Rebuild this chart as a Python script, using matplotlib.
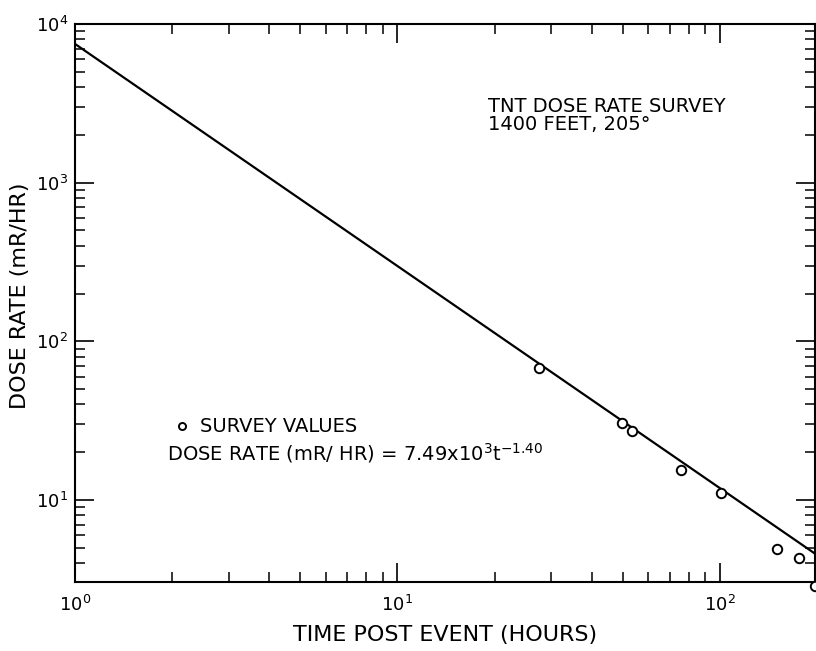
"""
TNT dose rate survey at 1400 ft, 205 deg: survey values and the fitted
power law on log-log axes.
"""
import numpy as np
import matplotlib

matplotlib.use("Agg")
import matplotlib.pyplot as plt
from matplotlib.ticker import LogLocator, NullFormatter

# survey readings (hours post event, mR/hr)
survey_hours = [27.4, 49.6, 53.3, 75.7, 100.7, 150, 176, 197]
survey_rate = [67.9, 30.5, 27.2, 15.5, 11.1, 4.91, 4.31, 2.85]

# fitted law: rate = A * t ** B
fit_coef = 7.49e3
fit_exp = -1.40
fit_hours = [1.0, 10 ** 2.295]

x_range = (1.0, 10 ** 2.295)
y_range = (3.04, 1.0e4)

title_lines = ["TNT DOSE RATE SURVEY", "1400 FEET, 205\u00b0"]
legend_label = "SURVEY VALUES"
fit_label = r"DOSE RATE (mR/ HR) = 7.49x$10^{3}\mathrm{t}^{-1.40}$"
x_label = "TIME POST EVENT (HOURS)"
y_label = "DOSE RATE (mR/HR)"


def main():
    plt.rcParams["font.family"] = ["DejaVu Sans"]
    plt.rcParams["mathtext.fontset"] = "dejavusans"

    fig = plt.figure(figsize=(8.16, 6.51), dpi=100)
    ax = fig.add_axes([75 / 816, 1 - 582 / 651, 740 / 816, 558 / 651])

    t = np.array(fit_hours)
    ax.plot(t, fit_coef * t ** fit_exp, color="black", lw=1.6)
    pts, = ax.plot(survey_hours, survey_rate, ls="none", marker="o", ms=6.8,
                   mfc="white", mec="black", mew=1.4, clip_on=False, zorder=3)

    ax.set_xscale("log")
    ax.set_yscale("log")
    ax.set_xlim(*x_range)
    ax.set_ylim(*y_range)

    for axis in (ax.xaxis, ax.yaxis):
        axis.set_major_locator(LogLocator(base=10, numticks=10))
        axis.set_minor_locator(LogLocator(base=10, subs=np.arange(2, 10), numticks=10))
        axis.set_minor_formatter(NullFormatter())
    ax.tick_params(which="both", direction="in", top=True, right=True,
                   color="black", labelsize=13)
    ax.tick_params(which="major", length=14, width=1.2)
    ax.tick_params(which="minor", length=7.5, width=1.1)
    ax.tick_params(axis="x", which="major", pad=9)
    ax.tick_params(axis="y", which="major", pad=5)
    for s in ax.spines.values():
        s.set_linewidth(1.5)

    ax.set_xlabel(x_label, fontsize=16, va="center")
    ax.xaxis.set_label_coords(0.5, (582 - 635) / 558)
    ax.set_ylabel(y_label, fontsize=16, va="center")
    ax.yaxis.set_label_coords((20 - 75) / 740, 0.5 + 7 / 558)

    for i, line in enumerate(title_lines):
        fig.text(488 / 816, 1 - (106 + 19 * i) / 651, line, fontsize=14,
                 ha="left", va="center")

    ax.legend([pts], [legend_label], loc="center left", frameon=False,
              bbox_to_anchor=(163 / 816, 1 - 427 / 651),
              bbox_transform=fig.transFigure, fontsize=14, borderpad=0,
              handlelength=1.0, handletextpad=0.4, markerscale=0.75)
    fig.text(167 / 816, 1 - 453 / 651, fit_label, fontsize=14,
             ha="left", va="center")

    fig.savefig("out.png", dpi=100)
    plt.close(fig)


if __name__ == "__main__":
    main()
